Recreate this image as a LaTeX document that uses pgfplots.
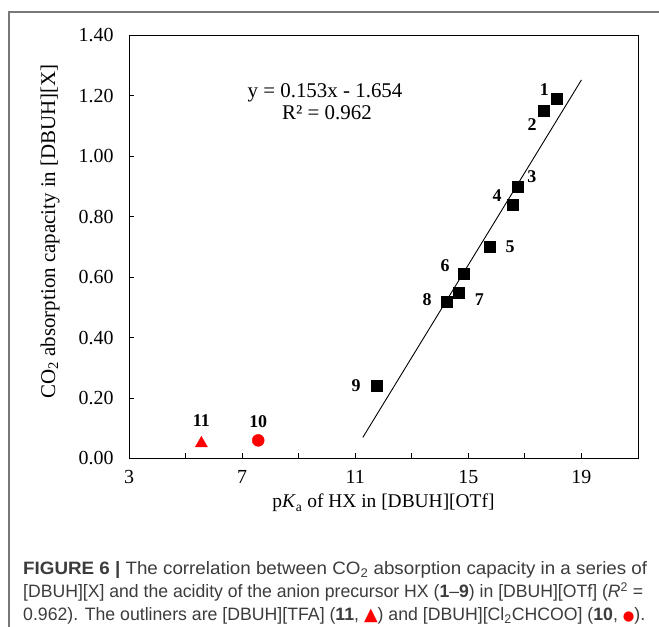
\documentclass[border=0pt]{standalone}
\usepackage{fontspec}
\usepackage{graphicx}
\setmainfont{Liberation Serif}
\newfontfamily\capfont{Liberation Sans}
\newfontfamily\symfont{DejaVu Sans}
\usepackage{pgfplots}
\pgfplotsset{compat=1.18}
\definecolor{capgray}{RGB}{60,60,60}
\definecolor{framegray}{RGB}{120,120,120}
\begin{document}
\begin{tikzpicture}[x=1bp,y=1bp]
\useasboundingbox (0,0) rectangle (659,627);
\draw[framegray, line width=1.6bp] (9,0) -- (9,615) -- (659,615);
\begin{axis}[
  at={(129bp,168.5bp)}, anchor=south west,
  scale only axis, width=509bp, height=423bp,
  xmin=3, xmax=21, ymin=0, ymax=1.4,
  xtick={3,5,...,21},
  xticklabels={3,{},7,{},11,{},15,{},19,{}},
  ytick={0,0.2,...,1.4},
  yticklabel style={/pgf/number format/fixed, /pgf/number format/fixed zerofill, /pgf/number format/precision=2, xshift=-12bp},
  /pgf/number format/assume math mode=true,
  tick align=inside, xtick pos=left, ytick pos=left,
  major tick length=5bp,
  axis line style={line width=0.9bp},
  tick style={line width=0.9bp, black},
  ticklabel style={font=\fontsize{20}{22}\selectfont},
  xticklabel style={yshift=-8bp},
  xlabel={p\textit{K}\textsubscript{a} of HX in [DBUH][OTf]},
  ylabel={CO\textsubscript{2} absorption capacity in [DBUH][X]},
  xlabel style={font=\fontsize{19.5}{22}\selectfont, at={(axis description cs:0.5,-0.117)}, anchor=base},
  ylabel style={font=\fontsize{21}{22}\selectfont, at={(axis description cs:-0.155,0.537)}, anchor=center},
  clip=false,
]
\addplot[black, line width=0.9bp] coordinates {(11.27,0.070) (19.0,1.253)};
\addplot[only marks, mark=square*, mark size=5.5bp, black] coordinates {
(18.14,1.19) (17.65,1.15) (16.76,0.90) (16.56,0.84) (15.77,0.70)
(14.85,0.61) (14.65,0.55) (14.25,0.52) (11.76,0.24)};
\addplot[only marks, mark=*, mark size=6bp, red] coordinates {(7.57,0.06)};
\addplot[only marks, mark=triangle*, mark size=7bp, red] coordinates {(5.56,0.05)};
\begin{scope}[every node/.style={font=\fontsize{18}{20}\selectfont\bfseries}]
\node at (axis cs:18.14,1.19) [xshift=-12.7bp, yshift=9.3bp] {1};
\node at (axis cs:17.65,1.15) [xshift=-11.3bp, yshift=-14bp] {2};
\node at (axis cs:16.76,0.90) [xshift=13.7bp, yshift=10bp] {3};
\node at (axis cs:16.56,0.84) [xshift=-15.3bp, yshift=9bp] {4};
\node at (axis cs:15.77,0.70) [xshift=20bp, yshift=0bp] {5};
\node at (axis cs:14.85,0.61) [xshift=-19bp, yshift=8.7bp] {6};
\node at (axis cs:14.65,0.55) [xshift=21bp, yshift=-7.3bp] {7};
\node at (axis cs:14.25,0.52) [xshift=-20bp, yshift=1.3bp] {8};
\node at (axis cs:11.76,0.24) [xshift=-20.6bp, yshift=0.7bp] {9};
\node at (axis cs:7.57,0.06) [yshift=19bp] {10};
\node at (axis cs:5.56,0.05) [yshift=23bp] {11};
\end{scope}
\end{axis}
\node[font=\fontsize{21}{24}\selectfont, anchor=base] at (325,529) {y = 0.153x - 1.654};
\node[font=\fontsize{21}{24}\selectfont, anchor=base] at (327,507) {R² = 0.962};
\begin{scope}[every node/.style={anchor=base west, inner sep=0pt, text=capgray, font=\capfont\fontsize{18}{20}\selectfont}]
\node at (23,52) {\resizebox{624bp}{\height}{\textbf{FIGURE 6 |} The correlation between CO\textsubscript{2} absorption capacity in a series of}};
\node at (23,29) {\resizebox{620bp}{\height}{[DBUH][X] and the acidity of the anion precursor HX (\textbf{1}–\textbf{9}) in [DBUH][OTf] (\textit{R}\textsuperscript{2} =}};
\node at (23,6) {\resizebox{622bp}{\height}{0.962). The outliners are [DBUH][TFA] (\textbf{11}, {\color{red}\symfont ▲}) and [DBUH][Cl\textsubscript{2}CHCOO] (\textbf{10}, {\color{red}\symfont\scalebox{0.75}{●}}).}};
\end{scope}
\end{tikzpicture}
\end{document}
